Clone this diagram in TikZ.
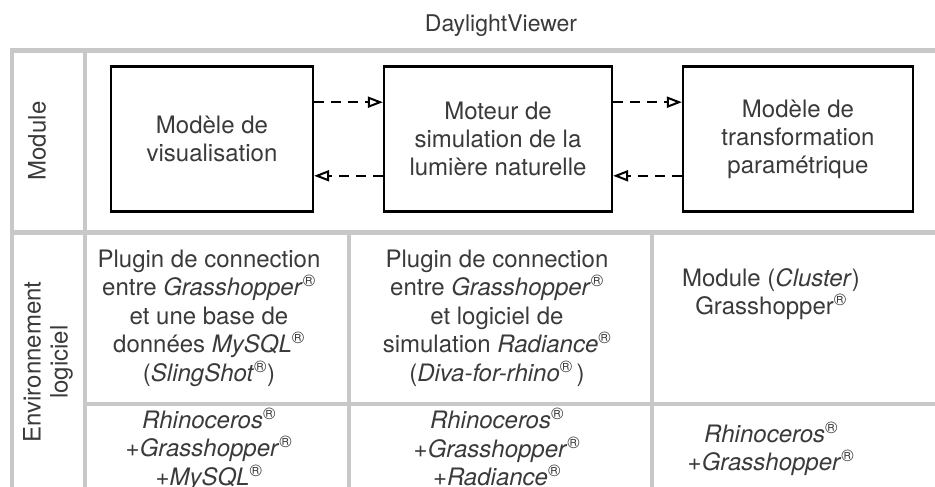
\documentclass[tikz,border=0pt]{standalone}
\usepackage{fontspec}
\setmainfont{TeX Gyre Heros}
\usetikzlibrary{arrows.meta,calc}
\definecolor{txt}{RGB}{58,58,58}
\definecolor{gridc}{RGB}{200,200,200}
\newcommand{\rg}{\textsuperscript{\textregistered}}
\tikzset{
  gridline/.style={draw=gridc, line width=4.5bp},
  modbox/.style={draw=black, line width=2.2bp, inner sep=0pt, align=center, text=txt,
    font=\fontsize{24bp}{28bp}\selectfont},
  cell/.style={inner sep=0pt, align=center, text=txt, font=\fontsize{24bp}{28.5bp}\selectfont},
  flow/.style={draw=black, line width=2bp, dash pattern=on 10bp off 7bp,
    -{Triangle[open, length=15bp, width=11bp, line width=2bp]}},
}
\begin{document}
\begin{tikzpicture}[x=1bp,y=-1bp]
\useasboundingbox (0,0) rectangle (935,487);
% grid
\draw[gridline] (10,50.5) -- (935,50.5);
\draw[gridline] (12,48.5) -- (12,487);
\draw[gridline] (85,50.5) -- (85,487);
\draw[gridline] (12,232.5) -- (935,232.5);
\draw[gridline] (349,232.5) -- (349,487);
\draw[gridline] (652,232.5) -- (652,487);
\draw[gridline] (85,404) -- (935,404);
% title
\node[cell, anchor=base, font=\fontsize{23bp}{26bp}\selectfont] (title) at (501,32) {DaylightViewer};
% row labels
\node[cell, rotate=90] (lmod) at (37,141) {Module};
\node[cell, rotate=90, font=\fontsize{24bp}{27bp}\selectfont] (lenv) at (48,362) {Environnement\\logiciel};
% module boxes
\node[modbox, minimum width=202bp, minimum height=145bp] (b1) at (212,139) {Modèle de\\visualisation};
\node[modbox, minimum width=228bp, minimum height=145bp] (b2) at (498,139) {Moteur de\\simulation de la\\lumière naturelle};
\node[modbox, minimum width=230bp, minimum height=145bp] (b3) at (798,139) {Modèle de\\transformation\\paramétrique};
% arrows
\draw[flow] ($(b1.north east)!0.25!(b1.south east)$) -- ($(b2.north west)!0.25!(b2.south west)$);
\draw[flow] ($(b2.north west)!0.75!(b2.south west)$) -- ($(b1.north east)!0.75!(b1.south east)$);
\draw[flow] ($(b2.north east)!0.25!(b2.south east)$) -- ($(b3.north west)!0.25!(b3.south west)$);
\draw[flow] ($(b3.north west)!0.75!(b3.south west)$) -- ($(b2.north east)!0.75!(b2.south east)$);
% software cells
\node[cell] (c1) at (209,318) {Plugin de connection\\entre \textit{Grasshopper}\rg\\et une base de\\données \textit{MySQL}\rg\\(\textit{SlingShot}\rg)};
\node[cell] (c2) at (497,318) {Plugin de connection\\entre \textit{Grasshopper}\rg\\et logiciel de\\simulation \textit{Radiance}\rg\\(\textit{Diva-for-rhino}\rg\,)};
\node[cell] (c3) at (771,294) {Module (\textit{Cluster})\\Grasshopper\rg};
% environment cells
\node[cell] (e1) at (209,449) {\textit{Rhinoceros}\rg\\+\textit{Grasshopper}\rg\\+\textit{MySQL}\rg};
\node[cell] (e2) at (497,447) {\textit{Rhinoceros}\rg\\+\textit{Grasshopper}\rg\\+\textit{Radiance}\rg};
\node[cell] (e3) at (771,449) {\textit{Rhinoceros}\rg\\+\textit{Grasshopper}\rg};
\end{tikzpicture}
\end{document}
